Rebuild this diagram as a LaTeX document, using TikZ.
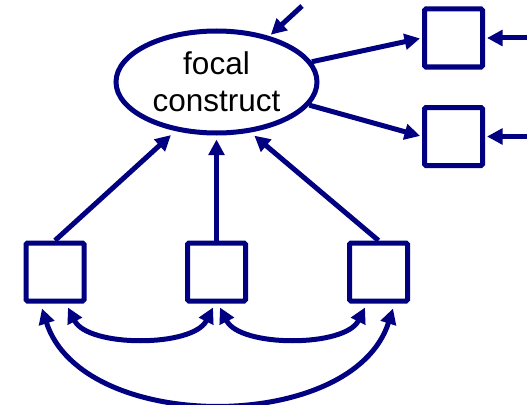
\documentclass[tikz,border=0pt]{standalone}
\usepackage{fontspec}
\setmainfont{Liberation Sans}
\usetikzlibrary{arrows.meta,shapes.geometric}
\definecolor{navy}{RGB}{0,0,128}
\begin{document}
\begin{tikzpicture}[x=1pt,y=-1pt,
  tip/.tip={Triangle[length=15.5pt,width=15.5pt]},
  link/.style={draw=navy, line width=5pt, -tip},
  covar/.style={draw=navy, line width=5pt, tip-tip},
  obs/.style={draw=navy, line width=5pt, rectangle, rounded corners=1.5pt,
    minimum size=58pt, inner sep=0pt, fill=white},
  latent/.style={draw=navy, line width=5pt, ellipse, minimum width=201pt,
    minimum height=102pt, inner sep=0pt, align=center,
    font=\fontsize{31.5}{37}\selectfont}]
  \useasboundingbox (0,0) rectangle (527,404);

  % latent variable and its indicators
  \node[latent] (e) at (216.5,82) {focal\\construct};
  \node[obs] (r1) at (453.5,38) {};
  \node[obs] (r2) at (453.5,136.5) {};

  % causes of the focal construct
  \node[obs] (b1) at (55,272) {};
  \node[obs] (b2) at (216.5,272) {};
  \node[obs] (b3) at (378.5,272) {};

  % free ends of the error terms
  \coordinate (d0) at (302,6);
  \coordinate (d1) at (527,38);
  \coordinate (d2) at (527,136.5);

  % disturbance and measurement errors
  \draw[link, shorten >=2pt] (d0) -- (e.41);
  \draw[link, shorten >=2pt] (d1) -- (r1.east);
  \draw[link, shorten >=2pt] (d2) -- (r2.east);

  % loadings
  \draw[link, shorten >=2pt] (e.12) -- (r1.west);
  \draw[link, shorten >=2pt] (e.-14) -- (r2.west);

  % formative paths
  \draw[link, shorten >=6pt] (b1.north) -- (e.230);
  \draw[link, shorten >=4pt] (b2.north) -- (e.270);
  \draw[link, shorten >=5pt] (b3.north) -- (e.304);

  % correlations among the causes
  \draw[covar] ([shift={(13,4)}]b1.south) .. controls +(20,40) and +(-20,40) .. ([shift={(-3.5,4)}]b2.south);
  \draw[covar] ([shift={(3.5,4)}]b2.south) .. controls +(20,40) and +(-20,40) .. ([shift={(-13.5,4)}]b3.south);
  \draw[covar] ([shift={(-13,5)}]b1.south) .. controls +(40,126) and +(-40,126) .. ([shift={(14.5,5)}]b3.south);
\end{tikzpicture}
\end{document}
